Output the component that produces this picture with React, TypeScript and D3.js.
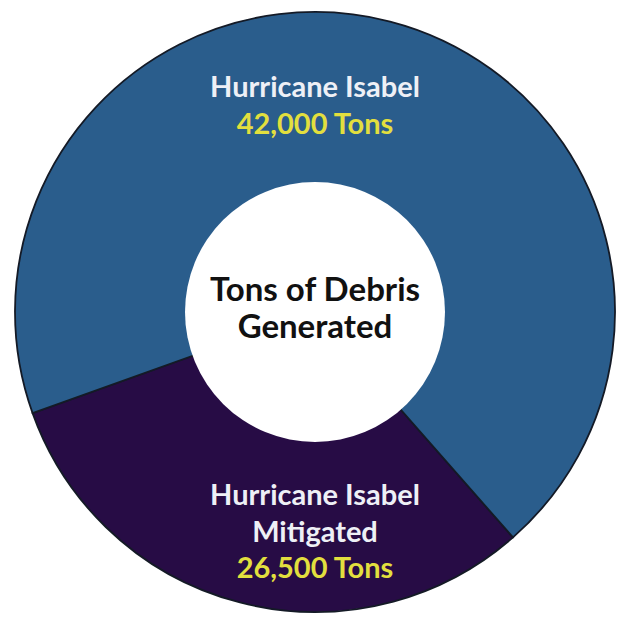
import React from "react";
import * as d3 from "d3";

// Slices (arc shares, in % of the ring)
const sliceNames = ["Hurricane Isabel Mitigated", "Hurricane Isabel"];
const sliceShares = [31.0, 69.0];
const sliceTons = [26500, 42000];
const sliceColors = ["#270c45", "#2a5d8c"];
const centerLines = ["Tons of Debris", "Generated"];
const topLabelLines = ["Hurricane Isabel"];
const bottomLabelLines = ["Hurricane Isabel", "Mitigated"];

const W = 619;
const H = 617;
const cx = 315;
const cy = 312;
const outerR = 300;
const innerR = 130;

const fmt = d3.format(",");

export default function App() {
  const pie = d3
    .pie<number>()
    .sort(null)
    .value((d) => d)
    .startAngle((138.7 * Math.PI) / 180)
    .endAngle((138.7 * Math.PI) / 180 + 2 * Math.PI);
  const arcs = pie(sliceShares);
  const arcGen = d3.arc<d3.PieArcDatum<number>>().innerRadius(0).outerRadius(outerR);

  const font = "Lato, 'Open Sans', sans-serif";
  const white = "#eef0f6";
  const yellow = "#e2df3e";

  return (
    <svg
      width={W}
      height={H}
      style={{ position: "absolute", left: 0, top: 0, background: "#fff" }}
    >
      <g transform={`translate(${cx},${cy})`}>
        {arcs.map((a, i) => (
          <path
            key={sliceNames[i]}
            d={arcGen(a) || ""}
            fill={sliceColors[i]}
            stroke="#141a26"
            strokeWidth={1.8}
          />
        ))}
        <circle r={innerR} fill="#ffffff" />
      </g>
      <g fontFamily={font} fontWeight={700} textAnchor="middle">
        {topLabelLines.map((t, i) => (
          <text key={"t" + i} x={cx} y={97 + i * 37} fontSize={29} fill={white}>
            {t}
          </text>
        ))}
        <text x={cx} y={134} fontSize={29} fill={yellow}>
          {fmt(sliceTons[1])} Tons
        </text>
        {centerLines.map((t, i) => (
          <text key={"c" + i} x={cx} y={301 + i * 37} fontSize={33} fill="#111111">
            {t}
          </text>
        ))}
        {bottomLabelLines.map((t, i) => (
          <text key={"b" + i} x={cx} y={505 + i * 37} fontSize={29} fill={white}>
            {t}
          </text>
        ))}
        <text x={cx} y={578} fontSize={29} fill={yellow}>
          {fmt(sliceTons[0])} Tons
        </text>
      </g>
    </svg>
  );
}
